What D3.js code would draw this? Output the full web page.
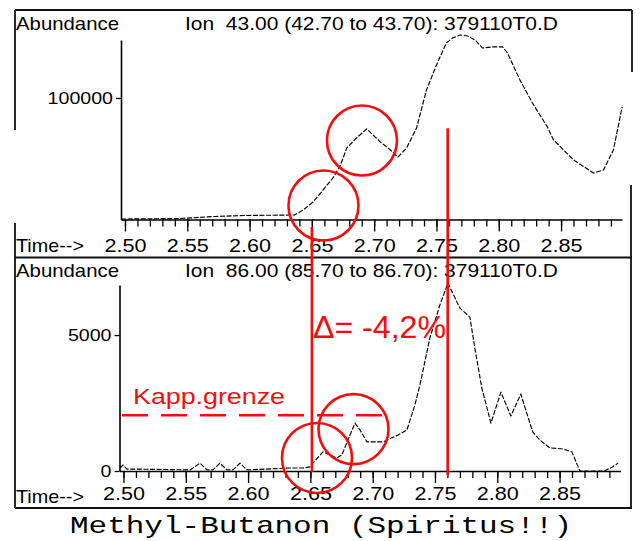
<!DOCTYPE html>
<html>
<head>
<meta charset="utf-8">
<script src="https://cdn.jsdelivr.net/npm/d3@7"></script>
<style>
  html, body { margin: 0; padding: 0; background: #fff; }
  svg { display: block; }
  text { font-family: "Liberation Sans", Arial, sans-serif; fill: #000; white-space: pre; }
</style>
</head>
<body>
<svg id="chart" width="642" height="541"></svg>
<script>
// Ion 43 extracted chromatogram: retention time (min) and abundance
const ion43Time = [2.4968, 2.544, 2.572, 2.596, 2.636, 2.643, 2.651, 2.659, 2.667, 2.673, 2.678,
  2.685, 2.694, 2.705, 2.713, 2.719, 2.726, 2.734, 2.742, 2.750, 2.758, 2.763, 2.769, 2.775,
  2.781, 2.787, 2.795, 2.803, 2.807, 2.817, 2.827, 2.839, 2.844, 2.860, 2.876, 2.884, 2.892, 2.899];
const ion43Abund = [400, 800, 2500, 3300, 3700, 7800, 14400, 24300, 34200, 44900, 58800,
  66300, 74500, 63800, 57200, 51400, 58800, 75300, 106600, 127200, 145300, 149400, 151800, 151000,
  147700, 141100, 142000, 142000, 137000, 114800, 95900, 76100, 65400, 49000, 38300, 40700, 57200, 92600];

// Ion 86 extracted chromatogram
const ion86Time = [2.4972, 2.4996, 2.5028, 2.5092, 2.5535, 2.5614, 2.5670, 2.5718, 2.5774, 2.5830,
  2.5879, 2.5935, 2.5991, 2.6336, 2.6440, 2.6496, 2.6520, 2.6601, 2.6713, 2.6753, 2.6801, 2.6858,
  2.6898, 2.6954, 2.7082, 2.7203, 2.7275, 2.7339, 2.7379, 2.7459, 2.7539, 2.7604, 2.7700, 2.7780,
  2.7820, 2.7876, 2.7949, 2.8029, 2.8109, 2.8189, 2.8262, 2.8286, 2.8342, 2.8422, 2.8527, 2.8599,
  2.8663, 2.8860, 2.8924, 2.8970];
const ion86Abund = [110, 220, 70, 70, 40, 290, 40, 40, 290, 40,
  40, 290, 40, 110, 110, 150, 290, 700, 480, 590, 1140, 1760,
  1510, 1070, 1070, 1320, 1510, 2430, 3160, 4890, 6100, 6910, 5990, 5660,
  4520, 3050, 1760, 2900, 2020, 2830, 1760, 1430, 1140, 850, 810, 700,
  0, 0, 150, 290];

// Axis ticks and labels
const majorTicks = [2.50, 2.55, 2.60, 2.65, 2.70, 2.75, 2.80, 2.85];
const majorTickLabels = ["2.50", "2.55", "2.60", "2.65", "2.70", "2.75", "2.80", "2.85"];
const minorTicks = d3.range(2.50, 2.895, 0.01);
const ion43YTicks = [100000];
const ion86YTicks = [0, 5000];
const panelTitles = ["Ion  43.00 (42.70 to 43.70): 379110T0.D", "Ion  86.00 (85.70 to 86.70): 379110T0.D"];
const caption = "Methyl-Butanon (Spiritus!!)";

// Hand-drawn annotations
const markTimes = [2.650, 2.759];
const kappLimit = 2050;
const kappRange = [2.4988, 2.7083];
const ion43Circles = [[2.6593, 11500], [2.6902, 65000]];
const ion86Circles = [[2.6553, 480], [2.6846, 1540]];
const deltaLabel = "Δ= -4,2%";
const limitLabel = "Kapp.grenze";

const RED = "#f40d0d";
const svg = d3.select("#chart");
svg.append("rect").attr("width", 642).attr("height", 541).attr("fill", "#fff");

// Scales for both panels
const xTop = d3.scaleLinear().domain([2.4968, 2.8989]).range([121, 622]);
const yTop = d3.scaleLinear().domain([0, 147700]).range([219.5, 40]);
const xBot = d3.scaleLinear().domain([2.4968, 2.8989]).range([119.5, 620.5]);
const yBot = d3.scaleLinear().domain([0, 6840]).range([471, 285]);

// Frame around the two panels
const frame = svg.append("g").attr("stroke", "#111").attr("stroke-width", 1.8).attr("fill", "none");
[[15, 10, 632, 10], [15, 257.5, 632, 257.5], [15, 508, 632, 508],
 [15, 10, 15, 130], [15, 223, 15, 508],
 [632, 10, 632, 72], [631, 185, 631, 508]].forEach(s => {
  frame.append("line").attr("x1", s[0]).attr("y1", s[1]).attr("x2", s[2]).attr("y2", s[3]);
});

function styleAxis(g) {
  g.attr("font-family", "\"Liberation Sans\", Arial, sans-serif");
  g.selectAll("line").attr("stroke", "#000").attr("stroke-width", 1.3);
  g.selectAll(".domain").attr("stroke", "#000").attr("stroke-width", 1.6);
  g.selectAll("text").attr("fill", "#000");
}

function drawPanel(cfg) {
  const g = svg.append("g");
  // header
  g.append("text").attr("x", 16).attr("y", cfg.headerY).attr("font-size", 19)
    .attr("textLength", 103).attr("lengthAdjust", "spacingAndGlyphs").text("Abundance");
  g.append("text").attr("x", 185).attr("y", cfg.headerY).attr("font-size", 19)
    .attr("textLength", 373).attr("lengthAdjust", "spacingAndGlyphs").text(cfg.title);

  // x axis: minor ticks every 0.01, labelled ticks every 0.05
  const y0 = cfg.y.range()[0];
  g.append("g").attr("transform", `translate(0,${y0})`)
    .call(d3.axisBottom(cfg.x).tickValues(minorTicks).tickSize(7).tickFormat("").tickSizeOuter(0))
    .call(styleAxis);
  g.append("g").attr("transform", `translate(0,${y0})`)
    .call(d3.axisBottom(cfg.x).tickValues(majorTicks).tickSize(12).tickPadding(cfg.labelPad)
      .tickFormat((d, i) => majorTickLabels[i]).tickSizeOuter(0))
    .call(a => a.select(".domain").remove())
    .call(styleAxis)
    .selectAll("text").attr("font-size", 19).attr("textLength", 42).attr("lengthAdjust", "spacingAndGlyphs");
  g.append("text").attr("x", 16).attr("y", cfg.timeY).attr("font-size", 19)
    .attr("textLength", 68).attr("lengthAdjust", "spacingAndGlyphs").text("Time-->");

  // y axis
  g.append("g").attr("transform", `translate(${cfg.x.range()[0]},0)`)
    .call(d3.axisLeft(cfg.y).tickValues(cfg.yTicks).tickSize(5).tickPadding(3).tickSizeOuter(0)
      .tickFormat(d => String(d)))
    .call(styleAxis)
    .selectAll("text").attr("font-size", 16)
    .attr("textLength", d => String(d).length * 10.9).attr("lengthAdjust", "spacingAndGlyphs");

  // trace
  const line = d3.line().x((d, i) => cfg.x(cfg.times[i])).y(d => cfg.y(d));
  g.append("path").datum(cfg.values).attr("d", line)
    .attr("fill", "none").attr("stroke", "#000").attr("stroke-width", 1.15)
    .attr("stroke-dasharray", "5 1.6").attr("stroke-linejoin", "round");

  // circled regions
  g.selectAll(null).data(cfg.circles).join("circle")
    .attr("cx", d => cfg.x(d[0])).attr("cy", d => cfg.y(d[1])).attr("r", 35)
    .attr("fill", "none").attr("stroke", RED).attr("stroke-width", 2.6);
}

drawPanel({ x: xTop, y: yTop, times: ion43Time, values: ion43Abund, yTicks: ion43YTicks,
  title: panelTitles[0], headerY: 30, timeY: 252, labelPad: 7, circles: ion43Circles });
drawPanel({ x: xBot, y: yBot, times: ion86Time, values: ion86Abund, yTicks: ion86YTicks,
  title: panelTitles[1], headerY: 277, timeY: 503, labelPad: 4, circles: ion86Circles });

// Retention time markers spanning both panels
const marks = svg.append("g").attr("stroke", RED).attr("stroke-width", 2.6);
marks.append("line").attr("x1", xTop(markTimes[0])).attr("x2", xTop(markTimes[0]))
  .attr("y1", yTop(0) + 7.5).attr("y2", yBot(0) + 1);
marks.append("line").attr("x1", xTop(markTimes[1])).attr("x2", xTop(markTimes[1]))
  .attr("y1", yTop(75000)).attr("y2", yBot(0) + 4);

// Limit line for the bottom trace
svg.append("line").attr("x1", xBot(kappRange[0])).attr("x2", xBot(kappRange[1]))
  .attr("y1", yBot(kappLimit)).attr("y2", yBot(kappLimit))
  .attr("stroke", RED).attr("stroke-width", 2.6).attr("stroke-dasharray", "26 13");

svg.append("text").attr("x", 133).attr("y", 404).attr("font-size", 22)
  .attr("textLength", 152).attr("lengthAdjust", "spacingAndGlyphs")
  .style("fill", RED).text(limitLabel);
svg.append("text").attr("x", 313).attr("y", 338).attr("font-size", 32)
  .attr("textLength", 133).attr("lengthAdjust", "spacingAndGlyphs")
  .style("fill", RED).text(deltaLabel);

// Caption
svg.append("text").attr("x", 70).attr("y", 533).attr("font-size", 24)
  .attr("textLength", 502).attr("lengthAdjust", "spacingAndGlyphs")
  .style("font-family", "\"Liberation Mono\", \"Courier New\", monospace")
  .text(caption);
</script>
</body>
</html>
